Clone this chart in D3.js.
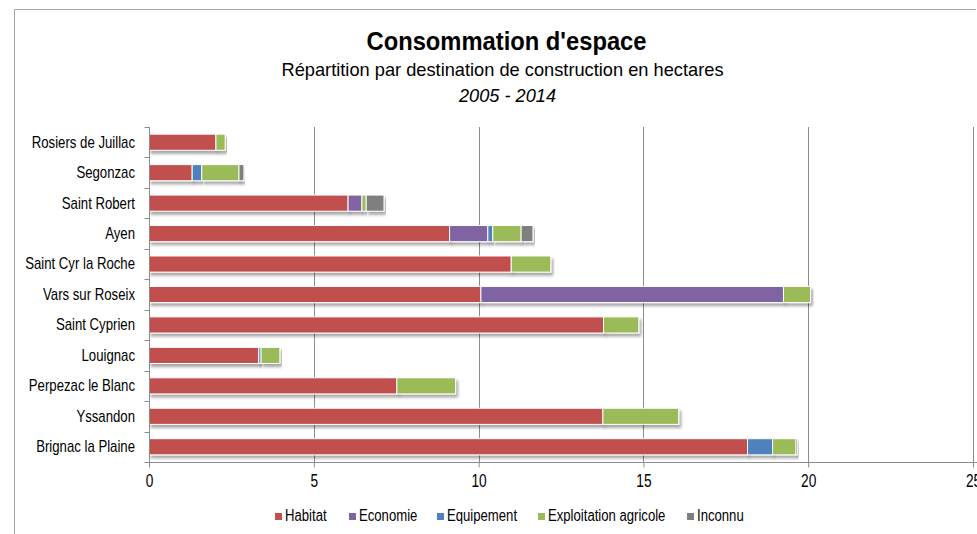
<!DOCTYPE html>
<html>
<head>
<meta charset="utf-8">
<script src="https://cdn.jsdelivr.net/npm/d3@7"></script>
<style>
  body { margin: 0; background: #fff; }
  svg text { font-family: 'Liberation Sans', Arial, sans-serif; fill: #000; }
</style>
</head>
<body>
<script>
const width = 977
const height = 534

// data (hectares)
const communes = ['Rosiers de Juillac', 'Segonzac', 'Saint Robert', 'Ayen', 'Saint Cyr la Roche',
  'Vars sur Roseix', 'Saint Cyprien', 'Louignac', 'Perpezac le Blanc', 'Yssandon', 'Brignac la Plaine']
const habitat = [2.03, 1.31, 6.04, 9.12, 10.99, 10.07, 13.79, 3.33, 7.52, 13.77, 18.16]
const economie = [0, 0, 0.42, 1.16, 0, 9.18, 0, 0, 0, 0, 0]
const equipement = [0, 0.29, 0, 0.15, 0, 0, 0, 0.07, 0, 0, 0.76]
const exploitation = [0.28, 1.13, 0.13, 0.86, 1.2, 0.82, 1.07, 0.57, 1.78, 2.3, 0.71]
const inconnu = [0, 0.15, 0.54, 0.36, 0, 0, 0, 0, 0, 0, 0.05]
const seriesNames = ['Habitat', 'Economie', 'Equipement', 'Exploitation agricole', 'Inconnu']
const seriesColors = ['#C0504D', '#8064A2', '#4F81BD', '#9BBB59', '#7F7F7F']
const xTicks = [0, 5, 10, 15, 20, 25]

const rows = communes.map(function (c, i) {
  return {
    commune: c,
    Habitat: habitat[i],
    Economie: economie[i],
    Equipement: equipement[i],
    'Exploitation agricole': exploitation[i],
    Inconnu: inconnu[i]
  }
})

// the source picture is squeezed horizontally, so the text is condensed
function squeeze (sel, k) {
  sel.each(function () {
    const w = this.getComputedTextLength()
    d3.select(this).attr('textLength', w * k).attr('lengthAdjust', 'spacingAndGlyphs')
  })
}
function fitWidth (sel, target) {
  sel.attr('textLength', target).attr('lengthAdjust', 'spacingAndGlyphs')
}

const margin = { top: 127, left: 149, bottom: 72 }
const plotBottom = height - margin.bottom

const x = d3.scaleLinear()
  .domain([0, 25])
  .range([margin.left, 973])

const y = d3.scaleBand()
  .domain(communes)
  .range([margin.top, plotBottom])
  .paddingInner(0.47)
  .paddingOuter(0.235)

const color = d3.scaleOrdinal(seriesNames, seriesColors)

const stacked = d3.stack().keys(seriesNames)(rows)

const svg = d3.select('body').append('svg')
  .attr('width', width)
  .attr('height', height)

// drop shadow like the office chart
const filter = svg.append('defs').append('filter').attr('id', 'shadow')
  .attr('x', '-5%').attr('y', '-20%').attr('width', '115%').attr('height', '170%')
filter.append('feDropShadow')
  .attr('dx', 2).attr('dy', 3).attr('stdDeviation', 1.5)
  .attr('flood-color', '#000').attr('flood-opacity', 0.35)

// outer frame
svg.append('path')
  .attr('d', 'M14.5,' + (height + 2) + 'V9.5H' + (width - 1))
  .attr('fill', 'none')
  .attr('stroke', '#a6a6a6')

// titles
svg.append('text')
  .attr('x', 506.5).attr('y', 50)
  .attr('text-anchor', 'middle')
  .style('font-size', '26px').style('font-weight', 'bold')
  .text("Consommation d'espace")
  .call(fitWidth, 280)

svg.append('text')
  .attr('x', 502.5).attr('y', 75.5)
  .attr('text-anchor', 'middle')
  .style('font-size', '19px')
  .text('Répartition par destination de construction en hectares')
  .call(fitWidth, 442)

svg.append('text')
  .attr('x', 507.5).attr('y', 101.5)
  .attr('text-anchor', 'middle')
  .style('font-size', '19px').style('font-style', 'italic')
  .text('2005 - 2014')
  .call(fitWidth, 97)

// vertical gridlines
svg.append('g')
  .selectAll('line')
  .data(xTicks.filter(function (d) { return d > 0 }))
  .enter().append('line')
  .attr('x1', function (d) { return Math.round(x(d)) + 0.5 })
  .attr('x2', function (d) { return Math.round(x(d)) + 0.5 })
  .attr('y1', margin.top)
  .attr('y2', plotBottom)
  .attr('stroke', '#8c8c8c')

// bars
svg.append('g')
  .selectAll('g')
  .data(stacked)
  .enter().append('g')
  .attr('fill', function (d) { return color(d.key) })
  .selectAll('rect')
  .data(function (d) { return d.filter(function (p) { return p[1] - p[0] > 0 }) })
  .enter().append('rect')
  .attr('x', function (d) { return x(d[0]) })
  .attr('y', function (d) { return y(d.data.commune) })
  .attr('width', function (d) { return x(d[1]) - x(d[0]) })
  .attr('height', y.bandwidth())
  .attr('stroke', '#fff')
  .attr('stroke-width', 1)
  .attr('filter', 'url(#shadow)')

// x axis
const xAxis = d3.axisBottom(x)
  .tickValues(xTicks)
  .tickSize(5)
  .tickPadding(7)
  .tickFormat(d3.format('d'))

const gx = svg.append('g')
  .attr('transform', 'translate(0,' + (plotBottom + 0.5) + ')')
  .call(xAxis)
gx.select('.domain').remove()
gx.append('line')
  .attr('x1', margin.left).attr('x2', width)
  .attr('stroke', '#8c8c8c')
gx.selectAll('.tick line').attr('stroke', '#8c8c8c')
gx.selectAll('.tick text')
  .style('font-size', '18px')
  .style('font-family', "'Liberation Sans', Arial, sans-serif")
  .attr('fill', '#000')
  .call(squeeze, 0.76)

// y axis
const yAxis = d3.axisLeft(y).tickSize(0).tickPadding(14.5)
const gy = svg.append('g')
  .attr('transform', 'translate(' + (margin.left + 0.5) + ',0)')
  .call(yAxis)
gy.select('.domain').attr('stroke', '#8c8c8c')
  .attr('d', 'M0,' + margin.top + 'V' + plotBottom)
gy.selectAll('.tick text')
  .style('font-size', '17px')
  .style('font-family', "'Liberation Sans', Arial, sans-serif")
  .attr('fill', '#000')
  .call(squeeze, 0.775)

// category separators on the y axis
const sepYs = d3.range(communes.length + 1).map(function (i) {
  return margin.top + i * (plotBottom - margin.top) / communes.length
})
gy.selectAll('.sep')
  .data(sepYs)
  .enter().append('line')
  .attr('class', 'sep')
  .attr('x1', -5).attr('x2', 0)
  .attr('y1', function (d) { return Math.round(d) + 0.5 })
  .attr('y2', function (d) { return Math.round(d) + 0.5 })
  .attr('stroke', '#8c8c8c')

// legend
const legendX = [275, 349, 437, 538, 687]
const legend = svg.append('g')
  .selectAll('g')
  .data(seriesNames)
  .enter().append('g')
  .attr('transform', function (d, i) { return 'translate(' + legendX[i] + ',521)' })

legend.append('rect')
  .attr('x', 0).attr('y', -8)
  .attr('width', 7).attr('height', 7)
  .attr('fill', function (d) { return color(d) })

legend.append('text')
  .attr('x', 10).attr('y', 0)
  .style('font-size', '16px')
  .text(function (d) { return d })
  .call(squeeze, 0.82)
</script>
</body>
</html>
